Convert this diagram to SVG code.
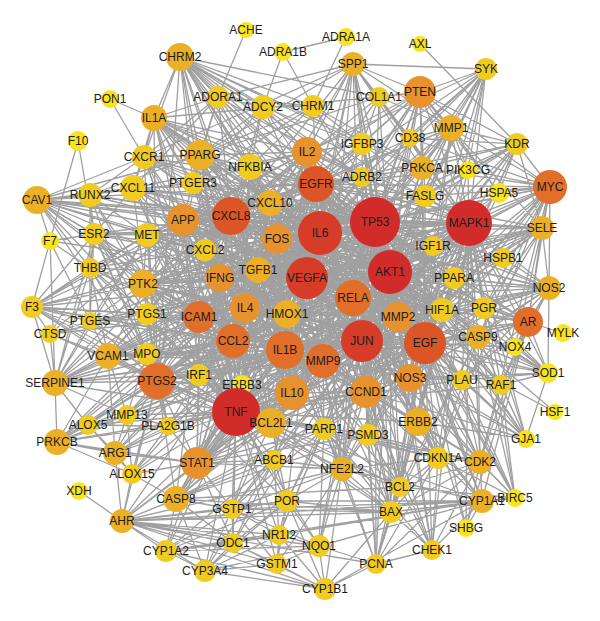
<svg xmlns="http://www.w3.org/2000/svg" width="600" height="621" viewBox="0 0 600 621">
<style>
.e path{fill:none;stroke:#a0a0a0;stroke-width:1.3}
.r{fill:#d22c2a}.r2{fill:#d73c29}.ro{fill:#dc5526}.o2{fill:#e16e29}.o{fill:#e8922e}.g{fill:#ebb026}.y2{fill:#f2cb20}.y{fill:#f8e31c}
text{font-family:"Liberation Sans",Arial,sans-serif;font-size:12px;fill:#1c1c1c;text-anchor:middle;dominant-baseline:central}
</style>
<rect width="600" height="621" fill="#fff"/>
<g id="edges" class="e">
<path d="M375 222L180 57M375 222L353 64M375 222L486 69M375 222L420 92M375 222L154 118M375 222L451 128M375 222L517 144M375 222L362 144M375 222L200 155M375 222L307 152M375 222L144 157M375 222L250 167M375 222L422 168M375 222L468 170M375 222L362 177M375 222L316 184M375 222L550 187M375 222L133 188M375 222L37 200M375 222L499 193M375 222L425 196M375 222L270 203M375 222L231 216M375 222L183 220M375 222L469 223M375 222L542 228M375 222L277 239M375 222L147 235M375 222L94 234M375 222L433 246M375 222L503 258M375 222L390 272M375 222L307 278M375 222L454 278M375 222L143 284M375 222L549 288M375 222L353 298M375 222L442 310M375 222L484 308M375 222L398 317M375 222L528 322M375 222L478 337M375 222L425 343M375 222L362 341M375 222L285 350M375 222L323 361M375 222L366 392M375 222L410 378M375 222L462 380M375 222L501 385M375 222L236 412M375 222L271 423M375 222L324 429M375 222L368 435M375 222L418 422M375 222L438 458M375 222L480 462M375 222L342 469M375 222L400 487M375 222L391 512M375 222L432 550M375 222L376 564M375 222L482 501M375 222L515 498M375 222L319 546M375 222L197 463M375 222L176 499M375 222L292 393M375 222L287 314M375 222L320 233M375 222L199 317M375 222L233 341M375 222L157 381M375 222L55 383M375 222L108 356M375 222L220 278M375 222L245 308M375 222L258 270M375 222L205 250M375 222L548 373M375 222L526 439M375 222L410 138M375 222L379 97M375 222L274 460M375 222L313 106M375 222L263 107"/>
<path d="M320 233L180 57M320 233L353 64M320 233L154 118M320 233L200 155M320 233L307 152M320 233L144 157M320 233L250 167M320 233L316 184M320 233L133 188M320 233L270 203M320 233L231 216M320 233L183 220M320 233L469 223M320 233L542 228M320 233L550 187M320 233L147 235M320 233L94 234M320 233L37 200M320 233L258 270M320 233L390 272M320 233L307 278M320 233L220 278M320 233L143 284M320 233L549 288M320 233L353 298M320 233L245 308M320 233L442 310M320 233L199 317M320 233L287 314M320 233L398 317M320 233L528 322M320 233L425 343M320 233L233 341M320 233L362 341M320 233L285 350M320 233L108 356M320 233L147 354M320 233L323 361M320 233L55 383M320 233L157 381M320 233L199 375M320 233L292 393M320 233L366 392M320 233L410 378M320 233L236 412M320 233L271 423M320 233L197 463M320 233L418 422M320 233L57 442M320 233L115 453M320 233L176 499M320 233L274 460M320 233L342 469M320 233L287 501M320 233L122 521M320 233L451 128M320 233L420 92M320 233L517 144M320 233L486 69M320 233L362 177M320 233L410 138M320 233L32 307M320 233L90 268M320 233L147 314M320 233L90 321M320 233L462 380M320 233L478 337M320 233L438 458M320 233L362 144M320 233L548 373M320 233L88 425M320 233L127 415M320 233L193 183M320 233L205 250M320 233L90 195M320 233L422 168M320 233L263 107M320 233L218 97"/>
<path d="M390 272L180 57M390 272L353 64M390 272L486 69M390 272L420 92M390 272L451 128M390 272L517 144M390 272L362 144M390 272L422 168M390 272L468 170M390 272L362 177M390 272L316 184M390 272L550 187M390 272L499 193M390 272L425 196M390 272L270 203M390 272L231 216M390 272L183 220M390 272L469 223M390 272L542 228M390 272L277 239M390 272L433 246M390 272L503 258M390 272L307 278M390 272L454 278M390 272L549 288M390 272L353 298M390 272L442 310M390 272L484 308M390 272L398 317M390 272L528 322M390 272L478 337M390 272L515 347M390 272L425 343M390 272L362 341M390 272L285 350M390 272L323 361M390 272L548 373M390 272L366 392M390 272L410 378M390 272L462 380M390 272L501 385M390 272L555 412M390 272L236 412M390 272L271 423M390 272L324 429M390 272L368 435M390 272L418 422M390 272L526 439M390 272L438 458M390 272L480 462M390 272L342 469M390 272L400 487M390 272L391 512M390 272L482 501M390 272L515 498M390 272L466 528M390 272L432 550M390 272L376 564M390 272L197 463M390 272L176 499M390 272L143 284M390 272L147 235M390 272L37 200M390 272L200 155M390 272L154 118M390 272L307 152M390 272L379 97M390 272L410 138M390 272L157 381M390 272L199 317M390 272L233 341M390 272L245 308M390 272L220 278M390 272L258 270M390 272L287 314M390 272L292 393M390 272L55 383M390 272L133 188M390 272L94 234"/>
<path d="M307 278L180 57M307 278L353 64M307 278L154 118M307 278L200 155M307 278L307 152M307 278L144 157M307 278L250 167M307 278L316 184M307 278L133 188M307 278L37 200M307 278L270 203M307 278L231 216M307 278L183 220M307 278L469 223M307 278L542 228M307 278L550 187M307 278L147 235M307 278L94 234M307 278L205 250M307 278L258 270M307 278L220 278M307 278L143 284M307 278L549 288M307 278L353 298M307 278L245 308M307 278L442 310M307 278L199 317M307 278L287 314M307 278L398 317M307 278L528 322M307 278L425 343M307 278L233 341M307 278L362 341M307 278L285 350M307 278L108 356M307 278L147 354M307 278L323 361M307 278L55 383M307 278L157 381M307 278L199 375M307 278L292 393M307 278L366 392M307 278L410 378M307 278L236 412M307 278L271 423M307 278L197 463M307 278L418 422M307 278L57 442M307 278L115 453M307 278L176 499M307 278L32 307M307 278L90 268M307 278L90 321M307 278L50 334M307 278L147 314M307 278L420 92M307 278L451 128M307 278L517 144M307 278L478 337M307 278L462 380M307 278L501 385M307 278L548 373M307 278L433 246M307 278L454 278M307 278L193 183M307 278L88 425M307 278L127 415M307 278L168 426M307 278L132 474M307 278L274 460M307 278L342 469M307 278L324 429M307 278L50 241"/>
<path d="M469 223L180 57M469 223L353 64M469 223L486 69M469 223L420 92M469 223L451 128M469 223L517 144M469 223L362 144M469 223L307 152M469 223L422 168M469 223L468 170M469 223L362 177M469 223L316 184M469 223L550 187M469 223L499 193M469 223L425 196M469 223L270 203M469 223L231 216M469 223L183 220M469 223L542 228M469 223L277 239M469 223L433 246M469 223L503 258M469 223L454 278M469 223L549 288M469 223L353 298M469 223L442 310M469 223L484 308M469 223L398 317M469 223L528 322M469 223L478 337M469 223L515 347M469 223L425 343M469 223L362 341M469 223L285 350M469 223L323 361M469 223L548 373M469 223L366 392M469 223L410 378M469 223L462 380M469 223L501 385M469 223L236 412M469 223L418 422M469 223L526 439M469 223L438 458M469 223L480 462M469 223L400 487M469 223L391 512M469 223L482 501M469 223L515 498M469 223L466 528M469 223L432 550M469 223L376 564M469 223L342 469M469 223L324 429M469 223L368 435M469 223L200 155M469 223L154 118M469 223L258 270M469 223L220 278M469 223L245 308M469 223L199 317M469 223L233 341M469 223L157 381M469 223L197 463M469 223L143 284M469 223L147 235M469 223L287 314M469 223L292 393M469 223L271 423M469 223L379 97M469 223L410 138"/>
<path d="M362 341L180 57M362 341L353 64M362 341L486 69M362 341L420 92M362 341L154 118M362 341L451 128M362 341L517 144M362 341L200 155M362 341L307 152M362 341L250 167M362 341L422 168M362 341L316 184M362 341L550 187M362 341L133 188M362 341L37 200M362 341L425 196M362 341L270 203M362 341L231 216M362 341L183 220M362 341L542 228M362 341L277 239M362 341L147 235M362 341L433 246M362 341L503 258M362 341L258 270M362 341L220 278M362 341L454 278M362 341L143 284M362 341L549 288M362 341L245 308M362 341L442 310M362 341L484 308M362 341L199 317M362 341L287 314M362 341L398 317M362 341L528 322M362 341L478 337M362 341L515 347M362 341L425 343M362 341L233 341M362 341L285 350M362 341L108 356M362 341L147 354M362 341L323 361M362 341L548 373M362 341L55 383M362 341L157 381M362 341L199 375M362 341L242 385M362 341L292 393M362 341L366 392M362 341L410 378M362 341L462 380M362 341L501 385M362 341L236 412M362 341L271 423M362 341L324 429M362 341L368 435M362 341L418 422M362 341L526 439M362 341L197 463M362 341L274 460M362 341L438 458M362 341L480 462M362 341L342 469M362 341L400 487M362 341L391 512M362 341L482 501M362 341L515 498M362 341L176 499M362 341L287 501M362 341L232 509M362 341L319 546M362 341L376 564M362 341L432 550M362 341L57 442M362 341L115 453M362 341L122 521M362 341L279 535M362 341L233 543"/>
<path d="M236 412L180 57M236 412L154 118M236 412L200 155M236 412L307 152M236 412L144 157M236 412L250 167M236 412L316 184M236 412L133 188M236 412L90 195M236 412L37 200M236 412L270 203M236 412L231 216M236 412L183 220M236 412L277 239M236 412L147 235M236 412L94 234M236 412L205 250M236 412L258 270M236 412L220 278M236 412L143 284M236 412L245 308M236 412L199 317M236 412L287 314M236 412L233 341M236 412L285 350M236 412L108 356M236 412L147 354M236 412L323 361M236 412L55 383M236 412L157 381M236 412L199 375M236 412L242 385M236 412L292 393M236 412L366 392M236 412L410 378M236 412L271 423M236 412L324 429M236 412L368 435M236 412L418 422M236 412L197 463M236 412L274 460M236 412L342 469M236 412L400 487M236 412L391 512M236 412L176 499M236 412L287 501M236 412L232 509M236 412L279 535M236 412L233 543M236 412L319 546M236 412L166 551M236 412L205 571M236 412L277 564M236 412L122 521M236 412L132 474M236 412L115 453M236 412L57 442M236 412L88 425M236 412L127 415M236 412L168 426M236 412L32 307M236 412L90 268M236 412L90 321M236 412L50 334M236 412L147 314M236 412L469 223M236 412L353 298M236 412L398 317M236 412L425 343M236 412L442 310M236 412L528 322M236 412L438 458M236 412L480 462M236 412L482 501M236 412L462 380M236 412L501 385"/>
<path d="M316 184L180 57M316 184L353 64M316 184L486 69M316 184L420 92M316 184L154 118M316 184L451 128M316 184L517 144M316 184L362 144M316 184L200 155M316 184L307 152M316 184L144 157M316 184L250 167M316 184L422 168M316 184L468 170M316 184L362 177M316 184L550 187M316 184L133 188M316 184L37 200M316 184L425 196M316 184L270 203M316 184L231 216M316 184L183 220M316 184L542 228M316 184L277 239M316 184L147 235M316 184L433 246M316 184L258 270M316 184L220 278M316 184L454 278M316 184L143 284M316 184L549 288M316 184L353 298M316 184L245 308M316 184L442 310M316 184L484 308M316 184L199 317M316 184L287 314M316 184L398 317M316 184L528 322M316 184L478 337M316 184L425 343M316 184L233 341M316 184L285 350M316 184L323 361M316 184L157 381M316 184L292 393M316 184L366 392M316 184L410 378M316 184L462 380M316 184L501 385M316 184L418 422M316 184L438 458M316 184L480 462M316 184L342 469M316 184L400 487M316 184L197 463M316 184L263 107M316 184L313 106M316 184L379 97M316 184L218 97M316 184L410 138"/>
<path d="M231 216L180 57M231 216L154 118M231 216L200 155M231 216L307 152M231 216L144 157M231 216L250 167M231 216L133 188M231 216L90 195M231 216L37 200M231 216L270 203M231 216L183 220M231 216L277 239M231 216L147 235M231 216L94 234M231 216L205 250M231 216L258 270M231 216L220 278M231 216L143 284M231 216L245 308M231 216L199 317M231 216L287 314M231 216L233 341M231 216L285 350M231 216L108 356M231 216L147 354M231 216L323 361M231 216L55 383M231 216L157 381M231 216L199 375M231 216L292 393M231 216L353 298M231 216L398 317M231 216L425 343M231 216L469 223M231 216L542 228M231 216L549 288M231 216L442 310M231 216L197 463M231 216L271 423M231 216L32 307M231 216L90 268M231 216L147 314M231 216L193 183M231 216L218 97M231 216L263 107M231 216L353 64M231 216L451 128M231 216L420 92"/>
<path d="M425 343L420 92M425 343L451 128M425 343L517 144M425 343L362 144M425 343L422 168M425 343L468 170M425 343L550 187M425 343L499 193M425 343L425 196M425 343L433 246M425 343L503 258M425 343L454 278M425 343L549 288M425 343L442 310M425 343L484 308M425 343L398 317M425 343L528 322M425 343L478 337M425 343L515 347M425 343L548 373M425 343L410 378M425 343L462 380M425 343L501 385M425 343L418 422M425 343L526 439M425 343L438 458M425 343L480 462M425 343L482 501M425 343L515 498M425 343L466 528M425 343L432 550M425 343L400 487M425 343L391 512M425 343L376 564M425 343L368 435M425 343L324 429M425 343L342 469M425 343L292 393M425 343L285 350M425 343L323 361M425 343L233 341M425 343L245 308M425 343L199 317M425 343L157 381M425 343L143 284M425 343L183 220M425 343L231 216M425 343L270 203M425 343L200 155M425 343L307 152M425 343L258 270M425 343L287 314M425 343L197 463M425 343L271 423M425 343L486 69M425 343L353 64M425 343L555 412"/>
<path d="M285 350L180 57M285 350L154 118M285 350L200 155M285 350L307 152M285 350L144 157M285 350L250 167M285 350L133 188M285 350L37 200M285 350L270 203M285 350L183 220M285 350L277 239M285 350L147 235M285 350L94 234M285 350L205 250M285 350L258 270M285 350L220 278M285 350L143 284M285 350L245 308M285 350L199 317M285 350L287 314M285 350L233 341M285 350L108 356M285 350L147 354M285 350L323 361M285 350L55 383M285 350L157 381M285 350L199 375M285 350L242 385M285 350L292 393M285 350L366 392M285 350L410 378M285 350L271 423M285 350L324 429M285 350L368 435M285 350L418 422M285 350L197 463M285 350L274 460M285 350L342 469M285 350L176 499M285 350L115 453M285 350L57 442M285 350L88 425M285 350L127 415M285 350L168 426M285 350L132 474M285 350L32 307M285 350L90 321M285 350L147 314M285 350L353 298M285 350L398 317M285 350L442 310M285 350L469 223M285 350L528 322M285 350L549 288M285 350L542 228M285 350L400 487M285 350L232 509"/>
<path d="M353 298L200 155M353 298L307 152M353 298L250 167M353 298L183 220M353 298L231 216M353 298L270 203M353 298L277 239M353 298L258 270M353 298L220 278M353 298L245 308M353 298L199 317M353 298L287 314M353 298L233 341M353 298L157 381M353 298L199 375M353 298L292 393M353 298L366 392M353 298L236 412M353 298L271 423M353 298L197 463M353 298L342 469M353 298L398 317M353 298L425 343M353 298L442 310M353 298L469 223M353 298L454 278M353 298L410 378M353 298L418 422M353 298L438 458M353 298L528 322M353 298L549 288M353 298L542 228M353 298L143 284M353 298L147 235M353 298L154 118M353 298L180 57M353 298L37 200M353 298L133 188"/>
<path d="M233 341L154 118M233 341L200 155M233 341L144 157M233 341L250 167M233 341L133 188M233 341L270 203M233 341L183 220M233 341L277 239M233 341L147 235M233 341L205 250M233 341L258 270M233 341L220 278M233 341L143 284M233 341L245 308M233 341L199 317M233 341L287 314M233 341L108 356M233 341L147 354M233 341L323 361M233 341L157 381M233 341L199 375M233 341L292 393M233 341L366 392M233 341L271 423M233 341L197 463M233 341L55 383M233 341L32 307M233 341L90 268M233 341L147 314M233 341L398 317M233 341L425 343M233 341L353 298M233 341L469 223M233 341L542 228M233 341L549 288"/>
<path d="M323 361L353 64M323 361L307 152M323 361L316 184M323 361L270 203M323 361L277 239M323 361L258 270M323 361L287 314M323 361L398 317M323 361L425 343M323 361L410 378M323 361L366 392M323 361L418 422M323 361L368 435M323 361L324 429M323 361L342 469M323 361L292 393M323 361L271 423M323 361L233 341M323 361L199 317M323 361L157 381M323 361L197 463M323 361L143 284M323 361L183 220M323 361L231 216M323 361L469 223M323 361L451 128M323 361L420 92M323 361L528 322M323 361L462 380M323 361L438 458M323 361L480 462M323 361L400 487M323 361L391 512M323 361L55 383M323 361L108 356M323 361L147 354M323 361L127 415"/>
<path d="M157 381L180 57M157 381L154 118M157 381L200 155M157 381L144 157M157 381L133 188M157 381L90 195M157 381L37 200M157 381L183 220M157 381L147 235M157 381L94 234M157 381L205 250M157 381L143 284M157 381L147 314M157 381L90 268M157 381L90 321M157 381L32 307M157 381L50 334M157 381L108 356M157 381L147 354M157 381L55 383M157 381L199 375M157 381L242 385M157 381L127 415M157 381L88 425M157 381L168 426M157 381L57 442M157 381L115 453M157 381L132 474M157 381L197 463M157 381L176 499M157 381L122 521M157 381L245 308M157 381L199 317M157 381L292 393M157 381L271 423M157 381L274 460M157 381L342 469M157 381L287 501"/>
<path d="M199 317L154 118M199 317L200 155M199 317L144 157M199 317L133 188M199 317L37 200M199 317L183 220M199 317L147 235M199 317L94 234M199 317L143 284M199 317L147 314M199 317L90 268M199 317L90 321M199 317L32 307M199 317L50 334M199 317L108 356M199 317L147 354M199 317L55 383M199 317L199 375M199 317L242 385M199 317L57 442M199 317L197 463M199 317L176 499M199 317L271 423"/>
<path d="M277 239L200 155M277 239L250 167M277 239L307 152M277 239L362 177M277 239L362 144M277 239L193 183M277 239L205 250M277 239L258 270M277 239L220 278M277 239L245 308M277 239L287 314M277 239L199 317M277 239L233 341M277 239L292 393M277 239L366 392M277 239L398 317M277 239L425 343M277 239L442 310M277 239L454 278M277 239L433 246M277 239L425 196M277 239L410 378M277 239L183 220M277 239L143 284M277 239L147 235M245 308L200 155M245 308L250 167M245 308L307 152M245 308L270 203M245 308L183 220M245 308L205 250M245 308L258 270M245 308L220 278M245 308L287 314M245 308L292 393M245 308L366 392M245 308L398 317M245 308L199 375M245 308L242 385M245 308L271 423M245 308L197 463M245 308L147 314M245 308L143 284M245 308L323 361M220 278L200 155M220 278L250 167M220 278L307 152M220 278L270 203M220 278L183 220M220 278L205 250M220 278L258 270M220 278L287 314M220 278L292 393M220 278L199 375M220 278L242 385M220 278L271 423M220 278L143 284M220 278L147 235M220 278L147 314M220 278L108 356M220 278L193 183M220 278L323 361M220 278L366 392M258 270L200 155M258 270L250 167M258 270L307 152M258 270L270 203M258 270L183 220M258 270L205 250M258 270L287 314M258 270L292 393M258 270L366 392M258 270L398 317M258 270L442 310M258 270L199 375M258 270L271 423M258 270L143 284M258 270L147 235M258 270L193 183M258 270L323 361M258 270L425 196M258 270L433 246"/>
<path d="M287 314L250 167M287 314L307 152M287 314L270 203M287 314L205 250M287 314L292 393M287 314L366 392M287 314L398 317M287 314L442 310M287 314L454 278M287 314L410 378M287 314L199 375M287 314L242 385M287 314L271 423M287 314L324 429M287 314L183 220M287 314L193 183M292 393L250 167M292 393L307 152M292 393L270 203M292 393L205 250M292 393L366 392M292 393L398 317M292 393L199 375M292 393L242 385M292 393L271 423M292 393L324 429M292 393L197 463M292 393L143 284M292 393L183 220M366 392L307 152M366 392L362 177M366 392L362 144M366 392L425 196M366 392L433 246M366 392L454 278M366 392L442 310M366 392L398 317M366 392L410 378M366 392L418 422M366 392L324 429M366 392L368 435M366 392L271 423M366 392L183 220M366 392L143 284M398 317L307 152M398 317L362 177M398 317L362 144M398 317L425 196M398 317L433 246M398 317L454 278M398 317L442 310M398 317L410 378M398 317L418 422M398 317L324 429M398 317L368 435M398 317L271 423M398 317L270 203M398 317L183 220M398 317L484 308M270 203L200 155M270 203L250 167M270 203L307 152M270 203L362 177M270 203L362 144M270 203L193 183M270 203L183 220M270 203L205 250M270 203L199 375M270 203L242 385M270 203L143 284M270 203L147 235M270 203L133 188M270 203L144 157M307 152L200 155M307 152L250 167M307 152L362 177M307 152L362 144M307 152L193 183M307 152L183 220M307 152L205 250M307 152L425 196M307 152L433 246M307 152L143 284M307 152L147 235M307 152L133 188M307 152L144 157M183 220L200 155M183 220L250 167M183 220L193 183M183 220L205 250M183 220L143 284M183 220L147 235M183 220L133 188M183 220L144 157M183 220L147 314M183 220L108 356M183 220L199 375M183 220L242 385M183 220L362 177M183 220L425 196M410 378L362 177M410 378L425 196M410 378L433 246M410 378L454 278M410 378L442 310M410 378L418 422M410 378L324 429M410 378L368 435M410 378L271 423M410 378L484 308M410 378L462 380"/>
<path d="M110 99L154 118M110 99L144 157M78 141L50 241M78 141L94 234M246 30L218 97M283 52L346 37M283 52L263 107M283 52L313 106M346 37L313 106M353 64L486 69M420 44L517 144M563 333L528 322M79 491L122 521M180 57L154 118M180 57L263 107M180 57L218 97M180 57L313 106M180 57L200 155M180 57L250 167M180 57L270 203M180 57L307 152M180 57L362 177M180 57L193 183M180 57L144 157M180 57L362 144M180 57L422 168M180 57L379 97M218 97L263 107M218 97L313 106M218 97L200 155M218 97L154 118M218 97L250 167M218 97L133 188M218 97L193 183M218 97L362 177M218 97L144 157M263 107L313 106M263 107L362 177M263 107L250 167M263 107L193 183M263 107L307 152M263 107L422 168M263 107L200 155M313 106L362 177M313 106L422 168M313 106L362 144M313 106L193 183M313 106L250 167M313 106L200 155M379 97L451 128M379 97L420 92M379 97L362 144M379 97L231 216M379 97L200 155M379 97L154 118M379 97L353 64M353 64L200 155M353 64L307 152M353 64L362 144M353 64L451 128M353 64L420 92M353 64L410 138M353 64L398 317M353 64L218 97M353 64L144 157M353 64L270 203M353 64L422 168"/>
<path d="M486 69L420 92M486 69L451 128M486 69L422 168M486 69L468 170M486 69L425 196M486 69L410 138M486 69L433 246M486 69L307 152M486 69L362 177M517 144L550 187M517 144L420 92M517 144L422 168M517 144L468 170M517 144L499 193M517 144L425 196M517 144L451 128M517 144L410 138M517 144L433 246M517 144L442 310M517 144L542 228M420 92L451 128M420 92L410 138M420 92L422 168M420 92L550 187M420 92L468 170M420 92L362 144M420 92L362 177M420 92L425 196M420 92L499 193M420 92L307 152M451 128L550 187M451 128L422 168M451 128L410 138M451 128L468 170M451 128L499 193M451 128L433 246M451 128L542 228M550 187L542 228M550 187L549 288M550 187L499 193M550 187L503 258M550 187L433 246M550 187L454 278M550 187L484 308M550 187L442 310M550 187L478 337M550 187L528 322M550 187L425 196M550 187L422 168M550 187L410 138M550 187L480 462M550 187L438 458M550 187L366 392M550 187L468 170M542 228L549 288M542 228L503 258M542 228L528 322M542 228L454 278M542 228L442 310M542 228L484 308M542 228L478 337M542 228L515 347M542 228L433 246M542 228L199 317M542 228L108 356M549 288L528 322M549 288L548 373M549 288L515 347M549 288L503 258M549 288L484 308M549 288L478 337M549 288L454 278M549 288L442 310M549 288L410 378M549 288L501 385M549 288L462 380M528 322L484 308M528 322L515 347M528 322L478 337M528 322L501 385M528 322L548 373M528 322L480 462M528 322L482 501M528 322L454 278M528 322L442 310M528 322L462 380M528 322L466 528M548 373L515 347M548 373L501 385M548 373L478 337M548 373L526 439M548 373L462 380M548 373L410 378M548 373L442 310M548 373L454 278M526 439L418 422M526 439L478 337M526 439L501 385M526 439L462 380M526 439L410 378M526 439L366 392M526 439L398 317M526 439L442 310M526 439L484 308"/>
<path d="M480 462L438 458M480 462L515 498M480 462L432 550M480 462L366 392M480 462L418 422M480 462L400 487M480 462L391 512M480 462L376 564M480 462L478 337M480 462L501 385M480 462L462 380M480 462L410 378M480 462L368 435M480 462L466 528M438 458L432 550M438 458L376 564M438 458L400 487M438 458L366 392M438 458L418 422M438 458L391 512M438 458L368 435M438 458L342 469M438 458L515 498M438 458L478 337M438 458L324 429M482 501L325 589M482 501L122 521M482 501L166 551M482 501L319 546M482 501L391 512M482 501L466 528M482 501L515 498M482 501L432 550M482 501L287 501M482 501L232 509M482 501L279 535M482 501L438 458M482 501L418 422M482 501L342 469M515 498L478 337M515 498L501 385M515 498L462 380M515 498L400 487M515 498L391 512M432 550L376 564M432 550L400 487M432 550L391 512M432 550L366 392M432 550L324 429M376 564L391 512M376 564L342 469M376 564L368 435M376 564L319 546M376 564L324 429M376 564L366 392M376 564L400 487M376 564L325 589M391 512L400 487M391 512L324 429M391 512L342 469M391 512L287 501M391 512L232 509M391 512L176 499M391 512L418 422M391 512L368 435M391 512L366 392M391 512L271 423M391 512L478 337M400 487L271 423M400 487L324 429M400 487L342 469M400 487L478 337M400 487L176 499M400 487L366 392M400 487L368 435M400 487L418 422M400 487L410 378M342 469L319 546M342 469L324 429M342 469L368 435M342 469L232 509M342 469L287 501M342 469L274 460M342 469L325 589M342 469L122 521M342 469L277 564M342 469L287 314M342 469L366 392"/>
<path d="M319 546L325 589M319 546L287 501M319 546L279 535M319 546L277 564M319 546L166 551M319 546L122 521M319 546L232 509M319 546L205 571M319 546L324 429M325 589L277 564M325 589L205 571M325 589L233 543M325 589L166 551M325 589L122 521M325 589L287 501M325 589L279 535M325 589L391 512M277 564L232 509M277 564L205 571M277 564L279 535M277 564L122 521M277 564L233 543M277 564L287 501M279 535L287 501M279 535L205 571M279 535L274 460M279 535L232 509M279 535L122 521M279 535L166 551M279 535L324 429M279 535L233 543M287 501L232 509M287 501L274 460M287 501L166 551M287 501L205 571M287 501L122 521M287 501L324 429M287 501L233 543M287 501L271 423M233 543L205 571M233 543L122 521M233 543L232 509M233 543L176 499M233 543L197 463M233 543L166 551M233 543L274 460M232 509L122 521M232 509L166 551M232 509L176 499M232 509L274 460M232 509L197 463M232 509L205 571M232 509L271 423M232 509L324 429M205 571L166 551M205 571L122 521M205 571L274 460M205 571L176 499M166 551L122 521M166 551L176 499M166 551L274 460M166 551L197 463M122 521L176 499M122 521L132 474M122 521L197 463M122 521L115 453M122 521L274 460M122 521L391 512M122 521L376 564M176 499L197 463M176 499L132 474M176 499L271 423M176 499L274 460M176 499L324 429M176 499L368 435M176 499L478 337M132 474L88 425M132 474L115 453M132 474L168 426M132 474L197 463M132 474L57 442M132 474L127 415M115 453L57 442M115 453L88 425M115 453L168 426M115 453L197 463M115 453L127 415M115 453L108 356M88 425L57 442M88 425L168 426M88 425L127 415M88 425L55 383M57 442L55 383M57 442L127 415M57 442L168 426M57 442L197 463M57 442L108 356M57 442L147 354M127 415L168 426M127 415L55 383M127 415L108 356M127 415L147 354M168 426L197 463M168 426L147 314M168 426L147 354M168 426L199 375M197 463L199 375M197 463L271 423M197 463L242 385M197 463L274 460M197 463L324 429M197 463L368 435M197 463L342 469M197 463L366 392"/>
<path d="M37 200L50 241M37 200L90 195M37 200L133 188M37 200L94 234M37 200L147 235M37 200L90 268M37 200L143 284M37 200L183 220M37 200L200 155M37 200L144 157M37 200L193 183M50 241L32 307M50 241L90 268M50 241L94 234M50 241L90 321M50 241L55 383M32 307L90 268M32 307L50 334M32 307L55 383M32 307L90 321M32 307L147 235M32 307L143 284M32 307L94 234M32 307L147 314M32 307L108 356M32 307L147 354M32 307L183 220M50 334L55 383M50 334L90 321M50 334L90 268M50 334L183 220M50 334L108 356M55 383L90 268M55 383L90 321M55 383L108 356M55 383L143 284M55 383L147 235M55 383L147 354M55 383L147 314M55 383L94 234M90 268L94 234M90 268L147 235M90 268L143 284M90 268L90 321M90 268L147 314M90 268L108 356M90 268L147 354M90 268L90 195M94 234L147 235M94 234L90 195M94 234L143 284M94 234L133 188M94 234L147 314M94 234L90 321M94 234L147 354M90 195L133 188M90 195L147 235M90 195L144 157M90 195L143 284M90 195L200 155M90 195L183 220M144 157L133 188M144 157L154 118M144 157L200 155M144 157L193 183M154 118L200 155M154 118L133 188M154 118L193 183M154 118L250 167M154 118L270 203M154 118L307 152M90 321L147 314M90 321L108 356M90 321L147 354M90 321L143 284M90 321L147 235M147 314L143 284M147 314L147 354M147 314L108 356M108 356L147 354M147 235L143 284"/>
</g>
<g id="nodes">
<g id="n-ACHE"><circle cx="246" cy="30" r="8" class="y"/><text x="246" y="30">ACHE</text></g>
<g id="n-ADRA1B"><circle cx="283" cy="52" r="9" class="y"/><text x="283" y="52">ADRA1B</text></g>
<g id="n-ADRA1A"><circle cx="346" cy="37" r="9" class="y"/><text x="346" y="37">ADRA1A</text></g>
<g id="n-AXL"><circle cx="420" cy="44" r="8" class="y"/><text x="420" y="44">AXL</text></g>
<g id="n-CHRM2"><circle cx="180" cy="57" r="14" class="g"/><text x="180" y="57">CHRM2</text></g>
<g id="n-SPP1"><circle cx="353" cy="64" r="12" class="g"/><text x="353" y="64">SPP1</text></g>
<g id="n-SYK"><circle cx="486" cy="69" r="11" class="y2"/><text x="486" y="69">SYK</text></g>
<g id="n-PON1"><circle cx="110" cy="99" r="9" class="y"/><text x="110" y="99">PON1</text></g>
<g id="n-ADORA1"><circle cx="218" cy="97" r="11" class="y2"/><text x="218" y="97">ADORA1</text></g>
<g id="n-ADCY2"><circle cx="263" cy="107" r="12" class="y2"/><text x="263" y="107">ADCY2</text></g>
<g id="n-CHRM1"><circle cx="313" cy="106" r="11" class="y2"/><text x="313" y="106">CHRM1</text></g>
<g id="n-COL1A1"><circle cx="379" cy="97" r="10" class="y2"/><text x="379" y="97">COL1A1</text></g>
<g id="n-PTEN"><circle cx="420" cy="92" r="16" class="o"/><text x="420" y="92">PTEN</text></g>
<g id="n-IL1A"><circle cx="154" cy="118" r="13" class="g"/><text x="154" y="118">IL1A</text></g>
<g id="n-MMP1"><circle cx="451" cy="128" r="13" class="g"/><text x="451" y="128">MMP1</text></g>
<g id="n-CD38"><circle cx="410" cy="138" r="9" class="y2"/><text x="410" y="138">CD38</text></g>
<g id="n-KDR"><circle cx="517" cy="144" r="11" class="y2"/><text x="517" y="144">KDR</text></g>
<g id="n-F10"><circle cx="78" cy="141" r="10" class="y"/><text x="78" y="141">F10</text></g>
<g id="n-IGFBP3"><circle cx="362" cy="144" r="11" class="y2"/><text x="362" y="144">IGFBP3</text></g>
<g id="n-PPARG"><circle cx="200" cy="155" r="15" class="g"/><text x="200" y="155">PPARG</text></g>
<g id="n-IL2"><circle cx="307" cy="152" r="15" class="o"/><text x="307" y="152">IL2</text></g>
<g id="n-CXCR1"><circle cx="144" cy="157" r="12" class="y2"/><text x="144" y="157">CXCR1</text></g>
<g id="n-NFKBIA"><circle cx="250" cy="167" r="13" class="y2"/><text x="250" y="167">NFKBIA</text></g>
<g id="n-PRKCA"><circle cx="422" cy="168" r="12" class="g"/><text x="422" y="168">PRKCA</text></g>
<g id="n-PIK3CG"><circle cx="468" cy="170" r="9" class="y"/><text x="468" y="170">PIK3CG</text></g>
<g id="n-ADRB2"><circle cx="362" cy="177" r="10" class="y2"/><text x="362" y="177">ADRB2</text></g>
<g id="n-PTGER3"><circle cx="193" cy="183" r="11" class="y2"/><text x="193" y="183">PTGER3</text></g>
<g id="n-EGFR"><circle cx="316" cy="184" r="18" class="ro"/><text x="316" y="184">EGFR</text></g>
<g id="n-MYC"><circle cx="550" cy="187" r="17" class="o2"/><text x="550" y="187">MYC</text></g>
<g id="n-CXCL11"><circle cx="133" cy="188" r="13" class="y2"/><text x="133" y="188">CXCL11</text></g>
<g id="n-RUNX2"><circle cx="90" cy="195" r="12" class="y2"/><text x="90" y="195">RUNX2</text></g>
<g id="n-CAV1"><circle cx="37" cy="200" r="14" class="g"/><text x="37" y="200">CAV1</text></g>
<g id="n-HSPA5"><circle cx="499" cy="193" r="10" class="y"/><text x="499" y="193">HSPA5</text></g>
<g id="n-FASLG"><circle cx="425" cy="196" r="11" class="y2"/><text x="425" y="196">FASLG</text></g>
<g id="n-CXCL10"><circle cx="270" cy="203" r="13" class="g"/><text x="270" y="203">CXCL10</text></g>
<g id="n-CXCL8"><circle cx="231" cy="216" r="19" class="ro"/><text x="231" y="216">CXCL8</text></g>
<g id="n-APP"><circle cx="183" cy="220" r="16" class="o"/><text x="183" y="220">APP</text></g>
<g id="n-TP53"><circle cx="375" cy="222" r="25" class="r"/><text x="375" y="222">TP53</text></g>
<g id="n-MAPK1"><circle cx="469" cy="223" r="23" class="r"/><text x="469" y="223">MAPK1</text></g>
<g id="n-IL6"><circle cx="320" cy="233" r="22" class="r2"/><text x="320" y="233">IL6</text></g>
<g id="n-SELE"><circle cx="542" cy="228" r="12" class="g"/><text x="542" y="228">SELE</text></g>
<g id="n-FOS"><circle cx="277" cy="239" r="15" class="o"/><text x="277" y="239">FOS</text></g>
<g id="n-F7"><circle cx="50" cy="241" r="9" class="y"/><text x="50" y="241">F7</text></g>
<g id="n-ESR2"><circle cx="94" cy="234" r="11" class="y2"/><text x="94" y="234">ESR2</text></g>
<g id="n-MET"><circle cx="147" cy="235" r="12" class="y2"/><text x="147" y="235">MET</text></g>
<g id="n-IGF1R"><circle cx="433" cy="246" r="10" class="y2"/><text x="433" y="246">IGF1R</text></g>
<g id="n-CXCL2"><circle cx="205" cy="250" r="11" class="y2"/><text x="205" y="250">CXCL2</text></g>
<g id="n-HSPB1"><circle cx="503" cy="258" r="10" class="y2"/><text x="503" y="258">HSPB1</text></g>
<g id="n-THBD"><circle cx="90" cy="268" r="10" class="y2"/><text x="90" y="268">THBD</text></g>
<g id="n-TGFB1"><circle cx="258" cy="270" r="13" class="g"/><text x="258" y="270">TGFB1</text></g>
<g id="n-AKT1"><circle cx="390" cy="272" r="22" class="r"/><text x="390" y="272">AKT1</text></g>
<g id="n-VEGFA"><circle cx="307" cy="278" r="21" class="r2"/><text x="307" y="278">VEGFA</text></g>
<g id="n-IFNG"><circle cx="220" cy="278" r="14" class="o"/><text x="220" y="278">IFNG</text></g>
<g id="n-PPARA"><circle cx="454" cy="278" r="11" class="y2"/><text x="454" y="278">PPARA</text></g>
<g id="n-PTK2"><circle cx="143" cy="284" r="14" class="g"/><text x="143" y="284">PTK2</text></g>
<g id="n-NOS2"><circle cx="549" cy="288" r="12" class="g"/><text x="549" y="288">NOS2</text></g>
<g id="n-RELA"><circle cx="353" cy="298" r="18" class="o2"/><text x="353" y="298">RELA</text></g>
<g id="n-IL4"><circle cx="245" cy="308" r="15" class="o"/><text x="245" y="308">IL4</text></g>
<g id="n-F3"><circle cx="32" cy="307" r="11" class="y2"/><text x="32" y="307">F3</text></g>
<g id="n-HIF1A"><circle cx="442" cy="310" r="12" class="y2"/><text x="442" y="310">HIF1A</text></g>
<g id="n-PGR"><circle cx="484" cy="308" r="11" class="y2"/><text x="484" y="308">PGR</text></g>
<g id="n-PTGES"><circle cx="90" cy="321" r="9" class="y2"/><text x="90" y="321">PTGES</text></g>
<g id="n-PTGS1"><circle cx="147" cy="314" r="11" class="y2"/><text x="147" y="314">PTGS1</text></g>
<g id="n-ICAM1"><circle cx="199" cy="317" r="16" class="o2"/><text x="199" y="317">ICAM1</text></g>
<g id="n-HMOX1"><circle cx="287" cy="314" r="14" class="g"/><text x="287" y="314">HMOX1</text></g>
<g id="n-MMP2"><circle cx="398" cy="317" r="15" class="o"/><text x="398" y="317">MMP2</text></g>
<g id="n-AR"><circle cx="528" cy="322" r="15" class="o2"/><text x="528" y="322">AR</text></g>
<g id="n-MYLK"><circle cx="563" cy="333" r="9" class="y"/><text x="563" y="333">MYLK</text></g>
<g id="n-CTSD"><circle cx="50" cy="334" r="9" class="y2"/><text x="50" y="334">CTSD</text></g>
<g id="n-CASP9"><circle cx="478" cy="337" r="12" class="g"/><text x="478" y="337">CASP9</text></g>
<g id="n-NOX4"><circle cx="515" cy="347" r="9" class="y"/><text x="515" y="347">NOX4</text></g>
<g id="n-EGF"><circle cx="425" cy="343" r="21" class="ro"/><text x="425" y="343">EGF</text></g>
<g id="n-CCL2"><circle cx="233" cy="341" r="17" class="o2"/><text x="233" y="341">CCL2</text></g>
<g id="n-JUN"><circle cx="362" cy="341" r="21" class="r2"/><text x="362" y="341">JUN</text></g>
<g id="n-IL1B"><circle cx="285" cy="350" r="19" class="o2"/><text x="285" y="350">IL1B</text></g>
<g id="n-VCAM1"><circle cx="108" cy="356" r="13" class="g"/><text x="108" y="356">VCAM1</text></g>
<g id="n-MPO"><circle cx="147" cy="354" r="11" class="y2"/><text x="147" y="354">MPO</text></g>
<g id="n-MMP9"><circle cx="323" cy="361" r="17" class="o2"/><text x="323" y="361">MMP9</text></g>
<g id="n-SOD1"><circle cx="548" cy="373" r="10" class="y"/><text x="548" y="373">SOD1</text></g>
<g id="n-SERPINE1"><circle cx="55" cy="383" r="13" class="g"/><text x="55" y="383">SERPINE1</text></g>
<g id="n-PTGS2"><circle cx="157" cy="381" r="18" class="o2"/><text x="157" y="381">PTGS2</text></g>
<g id="n-IRF1"><circle cx="199" cy="375" r="11" class="y2"/><text x="199" y="375">IRF1</text></g>
<g id="n-ERBB3"><circle cx="242" cy="385" r="10" class="y"/><text x="242" y="385">ERBB3</text></g>
<g id="n-IL10"><circle cx="292" cy="393" r="17" class="o"/><text x="292" y="393">IL10</text></g>
<g id="n-CCND1"><circle cx="366" cy="392" r="16" class="o"/><text x="366" y="392">CCND1</text></g>
<g id="n-NOS3"><circle cx="410" cy="378" r="14" class="o"/><text x="410" y="378">NOS3</text></g>
<g id="n-PLAU"><circle cx="462" cy="380" r="10" class="y2"/><text x="462" y="380">PLAU</text></g>
<g id="n-RAF1"><circle cx="501" cy="385" r="10" class="y2"/><text x="501" y="385">RAF1</text></g>
<g id="n-HSF1"><circle cx="555" cy="412" r="8" class="y"/><text x="555" y="412">HSF1</text></g>
<g id="n-TNF"><circle cx="236" cy="412" r="24" class="r"/><text x="236" y="412">TNF</text></g>
<g id="n-MMP13"><circle cx="127" cy="415" r="10" class="y2"/><text x="127" y="415">MMP13</text></g>
<g id="n-ALOX5"><circle cx="88" cy="425" r="10" class="y2"/><text x="88" y="425">ALOX5</text></g>
<g id="n-PLA2G1B"><circle cx="168" cy="426" r="9" class="y2"/><text x="168" y="426">PLA2G1B</text></g>
<g id="n-BCL2L1"><circle cx="271" cy="423" r="15" class="g"/><text x="271" y="423">BCL2L1</text></g>
<g id="n-PARP1"><circle cx="324" cy="429" r="11" class="y2"/><text x="324" y="429">PARP1</text></g>
<g id="n-PSMD3"><circle cx="368" cy="435" r="11" class="y2"/><text x="368" y="435">PSMD3</text></g>
<g id="n-ERBB2"><circle cx="418" cy="422" r="14" class="g"/><text x="418" y="422">ERBB2</text></g>
<g id="n-GJA1"><circle cx="526" cy="439" r="9" class="y"/><text x="526" y="439">GJA1</text></g>
<g id="n-PRKCB"><circle cx="57" cy="442" r="13" class="g"/><text x="57" y="442">PRKCB</text></g>
<g id="n-ARG1"><circle cx="115" cy="453" r="12" class="g"/><text x="115" y="453">ARG1</text></g>
<g id="n-STAT1"><circle cx="197" cy="463" r="16" class="o"/><text x="197" y="463">STAT1</text></g>
<g id="n-ABCB1"><circle cx="274" cy="460" r="10" class="y2"/><text x="274" y="460">ABCB1</text></g>
<g id="n-CDKN1A"><circle cx="438" cy="458" r="11" class="y2"/><text x="438" y="458">CDKN1A</text></g>
<g id="n-CDK2"><circle cx="480" cy="462" r="12" class="g"/><text x="480" y="462">CDK2</text></g>
<g id="n-NFE2L2"><circle cx="342" cy="469" r="12" class="g"/><text x="342" y="469">NFE2L2</text></g>
<g id="n-ALOX15"><circle cx="132" cy="474" r="10" class="y2"/><text x="132" y="474">ALOX15</text></g>
<g id="n-BCL2"><circle cx="400" cy="487" r="10" class="y2"/><text x="400" y="487">BCL2</text></g>
<g id="n-XDH"><circle cx="79" cy="491" r="9" class="y"/><text x="79" y="491">XDH</text></g>
<g id="n-CASP8"><circle cx="176" cy="499" r="13" class="g"/><text x="176" y="499">CASP8</text></g>
<g id="n-POR"><circle cx="287" cy="501" r="11" class="y2"/><text x="287" y="501">POR</text></g>
<g id="n-GSTP1"><circle cx="232" cy="509" r="10" class="y2"/><text x="232" y="509">GSTP1</text></g>
<g id="n-BAX"><circle cx="391" cy="512" r="11" class="y2"/><text x="391" y="512">BAX</text></g>
<g id="n-BIRC5"><circle cx="515" cy="498" r="9" class="y"/><text x="515" y="498">BIRC5</text></g>
<g id="n-CYP1A1"><circle cx="482" cy="501" r="12" class="g"/><text x="482" y="501">CYP1A1</text></g>
<g id="n-AHR"><circle cx="122" cy="521" r="12" class="g"/><text x="122" y="521">AHR</text></g>
<g id="n-SHBG"><circle cx="466" cy="528" r="9" class="y"/><text x="466" y="528">SHBG</text></g>
<g id="n-NR1I2"><circle cx="279" cy="535" r="10" class="y2"/><text x="279" y="535">NR1I2</text></g>
<g id="n-ODC1"><circle cx="233" cy="543" r="10" class="y2"/><text x="233" y="543">ODC1</text></g>
<g id="n-NQO1"><circle cx="319" cy="546" r="11" class="y2"/><text x="319" y="546">NQO1</text></g>
<g id="n-CHEK1"><circle cx="432" cy="550" r="10" class="y2"/><text x="432" y="550">CHEK1</text></g>
<g id="n-CYP1A2"><circle cx="166" cy="551" r="11" class="y2"/><text x="166" y="551">CYP1A2</text></g>
<g id="n-GSTM1"><circle cx="277" cy="564" r="10" class="y2"/><text x="277" y="564">GSTM1</text></g>
<g id="n-PCNA"><circle cx="376" cy="564" r="10" class="y2"/><text x="376" y="564">PCNA</text></g>
<g id="n-CYP3A4"><circle cx="205" cy="571" r="11" class="y2"/><text x="205" y="571">CYP3A4</text></g>
<g id="n-CYP1B1"><circle cx="325" cy="589" r="11" class="y2"/><text x="325" y="589">CYP1B1</text></g>
</g>
</svg>
